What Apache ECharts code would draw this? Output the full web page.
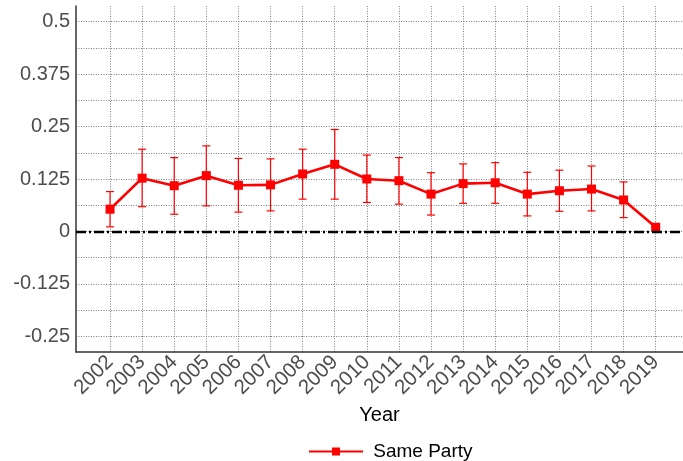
<!DOCTYPE html>
<html>
<head>
<meta charset="utf-8">
<script src="https://cdn.jsdelivr.net/npm/echarts@6/dist/echarts.min.js"></script>
<style>
  html, body { margin: 0; padding: 0; background: #fff; }
  #chart { width: 683px; height: 461px; }
</style>
</head>
<body>
<div id="chart"></div>
<script>
// Yearly estimate for "Same Party" with its confidence interval
const years = [2002, 2003, 2004, 2005, 2006, 2007, 2008, 2009, 2010,
               2011, 2012, 2013, 2014, 2015, 2016, 2017, 2018, 2019];
const estimate = [0.053, 0.127, 0.109, 0.133, 0.110, 0.111, 0.137, 0.160, 0.125,
                  0.121, 0.089, 0.114, 0.116, 0.089, 0.097, 0.101, 0.075, 0.010];
const lower = [0.011, 0.059, 0.041, 0.061, 0.046, 0.049, 0.077, 0.077, 0.069,
               0.065, 0.039, 0.067, 0.067, 0.037, 0.048, 0.049, 0.033, 0.009];
const upper = [0.095, 0.196, 0.176, 0.204, 0.174, 0.173, 0.196, 0.243, 0.182,
               0.176, 0.140, 0.161, 0.164, 0.141, 0.146, 0.156, 0.118, 0.011];

// y axis: labelled ticks and the finer grid between them
const yTickLabels = [-0.25, -0.125, 0, 0.125, 0.25, 0.375, 0.5];
const yGridValues = [-0.25, -0.1875, -0.125, -0.0625, 0, 0.0625, 0.125, 0.1875,
                     0.25, 0.3125, 0.375, 0.4375, 0.5];

const seriesName = 'Same Party';
const axisTitleX = 'Year';

const RED = '#ff0000';
const GRID_COLOR = '#7f7f7f';
const LABEL_COLOR = '#4d4d4d';
const FONT = 'Liberation Sans, Arial, sans-serif';

const chart = echarts.init(document.getElementById('chart'), null, { renderer: 'canvas' });

const errData = years.map((y, i) => [y, lower[i], upper[i]]);
const lineData = years.map((y, i) => [y, estimate[i]]);

chart.setOption({
  animation: false,
  backgroundColor: '#ffffff',
  textStyle: { fontFamily: FONT },
  grid: { left: 76, right: 0, top: 6, bottom: 109, containLabel: false },
  legend: {
    data: [seriesName],
    left: 303,
    top: 437,
    itemWidth: 54,
    itemHeight: 10,
    formatter: name => ' ' + name,
    textStyle: { fontSize: 19, color: '#000', fontFamily: FONT }
  },
  xAxis: {
    type: 'value',
    min: 2000.94,
    max: 2019.85,
    name: axisTitleX,
    nameLocation: 'middle',
    nameGap: 52,
    nameTextStyle: { fontSize: 20, color: '#000', fontFamily: FONT },
    axisLine: { show: true, onZero: false, lineStyle: { color: '#333', width: 1.5 } },
    axisTick: { show: false, customValues: years },
    axisLabel: {
      customValues: years,
      rotate: 45,
      margin: 7,
      fontSize: 20.5,
      color: LABEL_COLOR,
      fontFamily: FONT,
      formatter: v => String(Math.round(v))
    },
    splitLine: { show: true, lineStyle: { color: GRID_COLOR, type: [1, 1.5], width: 1 } }
  },
  yAxis: {
    type: 'value',
    min: -0.2875,
    max: 0.5375,
    axisLine: { show: true, onZero: false, lineStyle: { color: '#333', width: 1.5 } },
    axisTick: { show: false, customValues: yGridValues },
    axisLabel: {
      customValues: yTickLabels,
      margin: 6,
      fontSize: 20,
      color: LABEL_COLOR,
      fontFamily: FONT,
      formatter: v => String(v)
    },
    splitLine: { show: true, lineStyle: { color: GRID_COLOR, type: [1, 1.5], width: 1 } }
  },
  series: [
    {
      name: 'interval',
      type: 'custom',
      z: 2,
      silent: true,
      data: errData,
      renderItem: function (params, api) {
        const x = api.value(0);
        const lo = api.coord([x, api.value(1)]);
        const hi = api.coord([x, api.value(2)]);
        const cap = 4;
        const style = { stroke: RED, lineWidth: 1.2 };
        return {
          type: 'group',
          children: [
            { type: 'line', shape: { x1: lo[0], y1: lo[1], x2: hi[0], y2: hi[1] }, style: style },
            { type: 'line', shape: { x1: hi[0] - cap, y1: hi[1], x2: hi[0] + cap, y2: hi[1] }, style: style },
            { type: 'line', shape: { x1: lo[0] - cap, y1: lo[1], x2: lo[0] + cap, y2: lo[1] }, style: style }
          ]
        };
      }
    },
    {
      name: seriesName,
      type: 'line',
      z: 3,
      data: lineData,
      symbol: 'rect',
      symbolSize: 9,
      itemStyle: { color: RED },
      lineStyle: { color: RED, width: 2.6 },
      markLine: {
        silent: true,
        symbol: 'none',
        label: { show: false },
        lineStyle: { color: '#000', width: 2.4, type: [10, 3, 2, 3] },
        data: [{ yAxis: 0 }]
      }
    }
  ]
});
</script>
</body>
</html>
